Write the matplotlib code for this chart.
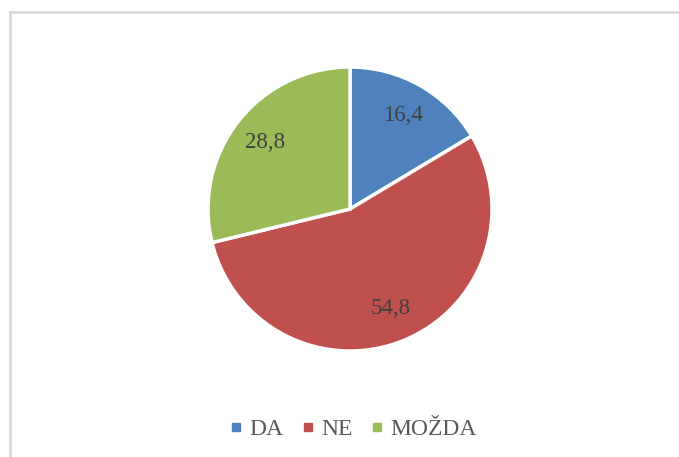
import matplotlib
matplotlib.use("Agg")
import matplotlib.pyplot as plt
from matplotlib.lines import Line2D

categories = ["DA", "NE", "MOŽDA"]
values = [16.4, 54.8, 28.8]
colors = ["#4F81BD", "#C0504D", "#9BBB59"]
value_labels = ["16,4", "54,8", "28,8"]

plt.rcParams['font.family'] = ['Liberation Serif', 'DejaVu Serif']

W, H = 679, 457
fig = plt.figure(figsize=(W / 100, H / 100), dpi=100)
fig.patch.set_facecolor("white")

# border lines (top and left)
fig.add_artist(Line2D([9.5 / W, 1], [1 - 11.5 / H, 1 - 11.5 / H], color="#d9d9d9", lw=2, transform=fig.transFigure))
fig.add_artist(Line2D([9.5 / W, 9.5 / W], [0, 1 - 11.5 / H], color="#d9d9d9", lw=2, transform=fig.transFigure))

cx, cy, r = 350, 209, 142
ax = fig.add_axes([(cx - r) / W, 1 - (cy + r) / H, 2 * r / W, 2 * r / H])
it = iter(value_labels)
wedges, texts, autotexts = ax.pie(
    values, colors=colors, startangle=90, counterclock=False,
    autopct=lambda p: next(it), pctdistance=0.76,
    wedgeprops=dict(edgecolor="white", linewidth=2.5),
    textprops=dict(fontsize=16.5, color="#404040"))
ax.set_xlim(-1.0, 1.0)
ax.set_ylim(-1.0, 1.0)
ax.set_aspect("auto")
ax.axis("off")

handles = [Line2D([0], [0], marker="s", linestyle="none", markersize=5.8,
                  markerfacecolor=c, markeredgecolor=c) for c in colors]
fig.legend(handles, categories, loc="center", bbox_to_anchor=(354 / W, 1 - 429 / H),
           ncol=3, frameon=False, fontsize=17, handlelength=0.4, handletextpad=0.35,
           columnspacing=0.85, labelcolor="#595959", borderpad=0)

fig.savefig("out.png", dpi=100, facecolor="white")
